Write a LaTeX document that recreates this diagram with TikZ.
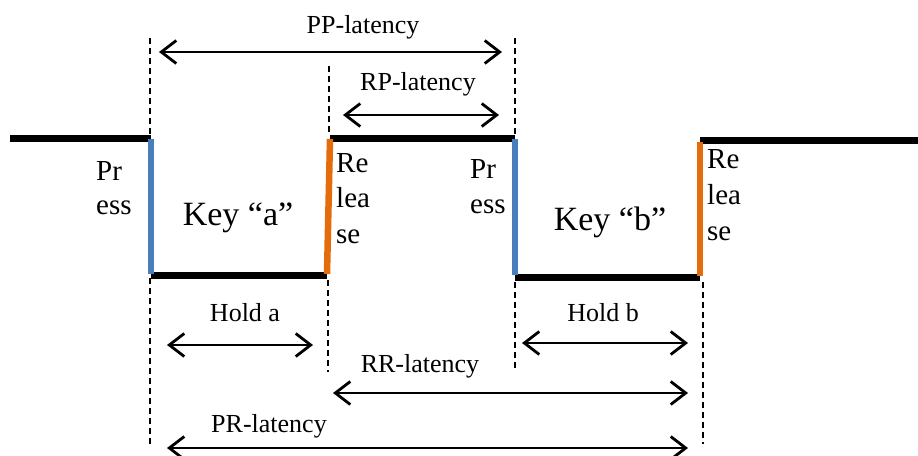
\documentclass[tikz,border=0pt]{standalone}
\usepackage{fontspec}
\setmainfont{LiberationSerif}[Extension=.ttf, UprightFont=*-Regular]
\usetikzlibrary{arrows.meta}
\definecolor{pressblue}{HTML}{4A7EBB}
\definecolor{releaseorange}{HTML}{E46C0A}
\tikzset{
  level/.style={line width=7pt, black},
  pressedge/.style={line width=6.5pt, pressblue},
  releaseedge/.style={line width=6.5pt, releaseorange},
  guide/.style={line width=2pt, dash pattern=on 6pt off 4pt},
  span/.style={line width=2.8pt, {Straight Barb[length=15pt,width=23pt]}-{Straight Barb[length=15pt,width=23pt]}},
  spanlabel/.style={anchor=base, inner sep=0pt, font=\fontsize{26}{28}\selectfont},
  sidetext/.style={anchor=base west, inner sep=0pt, font=\fontsize{29}{31}\selectfont},
  keylabel/.style={anchor=base, inner sep=0pt, font=\fontsize{34}{36}\selectfont}
}
\begin{document}
\begin{tikzpicture}[x=1pt, y=-1pt]
\useasboundingbox (0,0) rectangle (918,455);

% vertical guides (drawn first so the edges lie on top)
\coordinate (g1t) at (150,38);  \coordinate (g1b) at (150,445);
\coordinate (g2t) at (329,66);  \coordinate (g2m) at (329,134);
\coordinate (g2n) at (328,280); \coordinate (g2b) at (328,372);
\coordinate (g3t) at (515,38);  \coordinate (g3m) at (515,134);
\coordinate (g3n) at (515,282); \coordinate (g3b) at (515,370);
\coordinate (g4t) at (703,282); \coordinate (g4b) at (703,444);
\draw[guide] (g1t) -- (g1b);
\draw[guide] (g2t) -- (g2m);
\draw[guide] (g2n) -- (g2b);
\draw[guide] (g3t) -- (g3m);
\draw[guide] (g3n) -- (g3b);
\draw[guide] (g4t) -- (g4b);

% key-state waveform corners
\coordinate (w0) at (10,138);
\coordinate (pa1) at (151,138);
\coordinate (pa2) at (151,275);
\coordinate (ra2) at (327,275);
\coordinate (ra1) at (330,138);
\coordinate (pb1) at (515,138);
\coordinate (pb2) at (515,277);
\coordinate (rb2) at (700,277);
\coordinate (rb1) at (700,140);
\coordinate (w9) at (918,140);

% high / low levels
\draw[level] (w0) -- (pa1);
\draw[level] (pa2) -- (ra2);
\draw[level] (ra1) -- (pb1);
\draw[level] (pb2) -- (rb2);
\draw[level] (rb1) -- (w9);

% press and release edges
\draw[pressedge] ([yshift=-1pt]pa1) -- ([yshift=1pt]pa2);
\draw[releaseedge] ([yshift=-1pt]ra1) -- ([yshift=1pt]ra2);
\draw[pressedge] ([yshift=-1pt]pb1) -- ([yshift=2pt]pb2);
\draw[releaseedge] ([yshift=-2pt]rb1) -- ([yshift=1pt]rb2);

% interval arrows
\coordinate (ppL) at (159,52);  \coordinate (ppR) at (502,52);
\coordinate (rpL) at (343,115); \coordinate (rpR) at (499,115);
\coordinate (haL) at (167,345); \coordinate (haR) at (313,345);
\coordinate (hbL) at (522,343); \coordinate (hbR) at (688,343);
\coordinate (rrL) at (333,393); \coordinate (rrR) at (688,393);
\coordinate (prL) at (167,448); \coordinate (prR) at (688,448);
\draw[span] (ppL) -- (ppR);
\draw[span] (rpL) -- (rpR);
\draw[span] (haL) -- (haR);
\draw[span] (hbL) -- (hbR);
\draw[span] (rrL) -- (rrR);
\draw[span] (prL) -- (prR);

% interval labels
\node[spanlabel] (pp) at (363,33) {PP-latency};
\node[spanlabel] (rp) at (418,90) {RP-latency};
\node[spanlabel] (ha) at (245,321) {Hold a};
\node[spanlabel] (hb) at (603,321) {Hold b};
\node[spanlabel] (rr) at (420,372) {RR-latency};
\node[spanlabel] (pr) at (269,432) {PR-latency};

% edge labels
\node[sidetext] (pa-1) at (96,180) {Pr};
\node[sidetext] (pa-2) at (96,214) {ess};
\node[sidetext] (ra-1) at (336,172) {Re};
\node[sidetext] (ra-2) at (336,207) {lea};
\node[sidetext] (ra-3) at (336,243) {se};
\node[sidetext] (pb-1) at (470,178) {Pr};
\node[sidetext] (pb-2) at (470,213) {ess};
\node[sidetext] (rb-1) at (707,168) {Re};
\node[sidetext] (rb-2) at (707,204) {lea};
\node[sidetext] (rb-3) at (707,240) {se};

% key names
\node[keylabel] (ka) at (238,225) {Key “a”};
\node[keylabel] (kb) at (610,230) {Key “b”};
\end{tikzpicture}
\end{document}
